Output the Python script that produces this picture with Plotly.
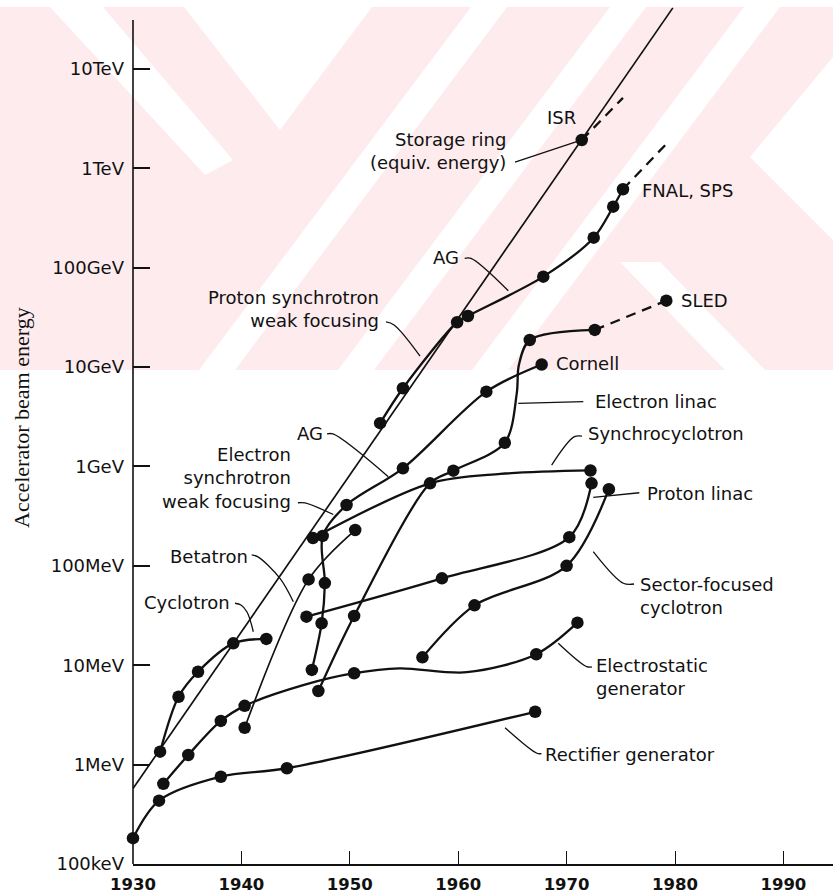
import math
import plotly.graph_objects as go

# ---------------- data: (year, beam energy in eV) ----------------
envelope_years = [1930.0, 1979.8]
envelope_energy = [5.75e5, 4.1e13]

rect_years = [1930.0, 1932.4, 1938.1, 1944.2, 1967.1]
rect_energy = [1.82e5, 4.34e5, 7.55e5, 9.19e5, 3.40e6]

es_years = [1932.8, 1935.1, 1938.1, 1940.3, 1950.4, 1967.2, 1971.0]
es_energy = [6.4e5, 1.25e6, 2.75e6, 3.9e6, 8.3e6, 1.29e7, 2.68e7]
es_path_years = [1932.8, 1935.1, 1938.1, 1940.3, 1945.7, 1950.4, 1954.6, 1960.8, 1967.2, 1971.0]
es_path_energy = [6.4e5, 1.25e6, 2.75e6, 3.9e6, 6.3e6, 8.3e6, 9.3e6, 8.5e6, 1.29e7, 2.68e7]

cyc_years = [1932.5, 1934.2, 1936.0, 1939.25, 1942.3]
cyc_energy = [1.35e6, 4.82e6, 8.6e6, 1.66e7, 1.84e7]

betatron_years = [1940.3, 1946.2, 1950.5]
betatron_energy = [2.35e6, 7.3e7, 2.29e8]

esync_years = [1946.5, 1947.4, 1947.7, 1947.5, 1949.7, 1954.9, 1962.6, 1967.7]
esync_energy = [8.96e6, 2.64e7, 6.7e7, 2.0e8, 4.09e8, 9.57e8, 5.65e9, 1.06e10]

synchro_years = [1946.6, 1957.4, 1963.9, 1972.2]
synchro_energy = [1.9e8, 6.76e8, 8.4e8, 9.1e8]
synchro_dot_years = [1946.6, 1957.4, 1972.2]
synchro_dot_energy = [1.9e8, 6.76e8, 9.1e8]

plinac_years = [1946.0, 1958.5, 1970.25, 1972.3]
plinac_energy = [3.08e7, 7.48e7, 1.94e8, 6.76e8]

elinac_years = [1947.1, 1950.4, 1957.4, 1959.55, 1964.3, 1965.4, 1965.6, 1966.6, 1972.6]
elinac_energy = [5.5e6, 3.13e7, 6.76e8, 9.06e8, 1.73e9, 5.4e9, 1.05e10, 1.87e10, 2.36e10]
elinac_dot_years = [1947.1, 1950.4, 1959.55, 1964.3, 1966.6, 1972.6]
elinac_dot_energy = [5.5e6, 3.13e7, 9.06e8, 1.73e9, 1.87e10, 2.36e10]
sled_years = [1972.6, 1979.2]
sled_energy = [2.36e10, 4.65e10]

sector_years = [1956.7, 1961.5, 1970.0, 1973.9]
sector_energy = [1.2e7, 4.0e7, 1.0e8, 5.9e8]

psync_years = [1952.8, 1954.9, 1959.9, 1960.9, 1967.85, 1972.5, 1974.3, 1975.2]
psync_energy = [2.72e9, 6.11e9, 2.82e10, 3.26e10, 8.11e10, 2.0e11, 4.1e11, 6.14e11]
fnal_future_years = [1975.2, 1979.4]
fnal_future_energy = [6.14e11, 1.85e12]

isr_years = [1971.4]
isr_energy = [1.92e12]
isr_future_years = [1971.4, 1975.2]
isr_future_energy = [1.92e12, 5.1e12]

tick_years = [1930, 1940, 1950, 1960, 1970, 1980, 1990]
tick_energy = [1e5, 1e6, 1e7, 1e8, 1e9, 1e10, 1e11, 1e12, 1e13]
tick_energy_text = ["100keV", "1MeV", "10MeV", "100MeV", "1GeV", "10GeV",
                    "100GeV", "1TeV", "10TeV"]

# label text, anchor year, anchor energy, x anchor
labels = [
    ("Storage ring<br>(equiv. energy)", 1964.6, 1.48e12, "right"),
    ("ISR", 1969.5, 3.2e12, "center"),
    ("FNAL, SPS", 1976.8, 5.94e11, "left"),
    ("AG", 1960.3, 1.25e11, "right"),
    ("Proton synchrotron<br>weak focusing", 1952.9, 3.8e10, "right"),
    ("SLED", 1980.4, 4.7e10, "left"),
    ("Cornell", 1968.8, 1.09e10, "left"),
    ("Electron linac", 1972.4, 4.48e9, "left"),
    ("Synchrocyclotron", 1971.8, 2.12e9, "left"),
    ("Proton linac", 1977.2, 5.36e8, "left"),
    ("Sector-focused<br>cyclotron", 1976.6, 4.97e7, "left"),
    ("Electrostatic<br>generator", 1972.5, 7.6e6, "left"),
    ("Rectifier generator", 1967.8, 1.25e6, "left"),
    ("AG", 1947.7, 2.15e9, "right"),
    ("Electron<br>synchrotron<br>weak focusing", 1944.8, 7.64e8, "right"),
    ("Betatron", 1940.8, 1.23e8, "right"),
    ("Cyclotron", 1939.1, 4.26e7, "right"),
]

# leader lines from labels to curves
leaders = [
    ([1965.24, 1970.93], [1.15e12, 1.85e12]),
    ([1960.6, 1961.18, 1964.62], [1.24e11, 1.24e11, 5.86e10]),
    ([1953.34, 1954.08, 1956.48], [2.84e10, 2.65e10, 1.29e10]),
    ([1965.54, 1971.54], [4.3e9, 4.48e9]),
    ([1968.62, 1970.68, 1971.42], [1.03e9, 1.98e9, 2.02e9]),
    ([1972.46, 1976.71], [4.89e8, 5.43e8]),
    ([1972.46, 1975.23, 1976.22], [1.39e8, 6.67e7, 6.56e7]),
    ([1969.23, 1971.85, 1972.34], [1.66e7, 9.66e6, 9.6e6]),
    ([1964.32, 1967.27, 1967.68], [2.35e6, 1.3e6, 1.29e6]),
    ([1947.9, 1948.45, 1953.55], [2.12e9, 2.12e9, 7.87e8]),
    ([1945.22, 1945.87, 1948.48], [4.31e8, 4.29e8, 3.28e8]),
    ([1940.95, 1941.53, 1943.56, 1944.79], [1.29e8, 1.23e8, 7.48e7, 4.35e7]),
    ([1939.41, 1939.96, 1940.52, 1941.1], [4.2e7, 4.04e7, 3.43e7, 2.17e7]),
]

# ---------------- figure ----------------
W, H = 833, 894
ML, MR, MT, MB = 133, 0, 5, 30
INK = "#111111"
PINK = "#fdebee"
FONT = "DejaVu Sans"

fig = go.Figure()


def curve(xs, ys, width=2.3, dash="solid"):
    fig.add_trace(go.Scatter(
        x=xs, y=ys, mode="lines",
        line=dict(color=INK, width=width, shape="spline", smoothing=0.9, dash=dash),
        hoverinfo="skip", showlegend=False))


def dots(xs, ys, size=12.5):
    fig.add_trace(go.Scatter(
        x=xs, y=ys, mode="markers",
        marker=dict(color=INK, size=size, line=dict(width=0)),
        hoverinfo="skip", showlegend=False, cliponaxis=False))


# envelope (straight line on the log scale)
fig.add_trace(go.Scatter(x=envelope_years, y=envelope_energy, mode="lines",
                         line=dict(color=INK, width=1.7),
                         hoverinfo="skip", showlegend=False))

curve(rect_years, rect_energy)
dots(rect_years, rect_energy)
curve(es_path_years, es_path_energy)
dots(es_years, es_energy)
curve(cyc_years, cyc_energy)
dots(cyc_years, cyc_energy)
curve(betatron_years, betatron_energy, width=1.7)
dots(betatron_years, betatron_energy)
curve(esync_years, esync_energy)
dots(esync_years, esync_energy)
curve(synchro_years, synchro_energy)
dots(synchro_dot_years, synchro_dot_energy)
curve(plinac_years, plinac_energy)
dots(plinac_years, plinac_energy)
curve(elinac_years, elinac_energy)
dots(elinac_dot_years, elinac_dot_energy)
curve(sled_years, sled_energy, dash="10px,7px")
dots(sled_years[1:], sled_energy[1:])
curve(sector_years, sector_energy)
dots(sector_years, sector_energy)
curve(psync_years, psync_energy)
dots(psync_years, psync_energy)
curve(fnal_future_years, fnal_future_energy, dash="10px,7px")
dots(isr_years, isr_energy)
curve(isr_future_years, isr_future_energy, dash="10px,7px")

for lx, lyv in leaders:
    fig.add_trace(go.Scatter(x=lx, y=lyv, mode="lines",
                             line=dict(color=INK, width=1.3, shape="spline"),
                             hoverinfo="skip", showlegend=False))

for text, x, e, anchor in labels:
    fig.add_annotation(x=x, y=math.log10(e), text=text, showarrow=False,
                       xanchor=anchor, yanchor="middle",
                       align="right" if anchor == "right" else "left",
                       font=dict(family=FONT, size=18, color=INK))

# faint diagonal banding in the upper part of the page
pw, ph = W - ML - MR, H - MT - MB


def px(x, y):
    return (x - ML) / pw, (H - MB - y) / ph


def poly(points, color):
    path = "M " + " L ".join("%.4f,%.4f" % px(x, y) for x, y in points) + " Z"
    fig.add_shape(type="path", path=path, xref="paper", yref="paper",
                  fillcolor=color, line=dict(width=0), layer="below")


poly([(0, 7), (833, 7), (833, 370), (0, 370)], PINK)
for x0 in [471, 610, 744]:
    poly([(x0, 7), (x0 + 36, 7), (x0 + 36 - 272, 370), (x0 - 272, 370)], "white")
poly([(184, 7), (372, 7), (280, 130)], "white")
poly([(50, 7), (103, 7), (233, 160), (205, 175)], "white")
poly([(750, 157), (833, 57), (833, 240)], "white")
poly([(620, 262), (660, 262), (765, 370), (725, 370)], "white")

# y axis line drawn only up to the top tick region
fig.add_shape(type="line", xref="paper", yref="paper", x0=0, x1=0,
              y0=0, y1=(H - MB - 20) / ph, line=dict(color=INK, width=1.6))

# rotated axis title
tx, ty = px(21, 418)
fig.add_annotation(x=tx, y=ty, xref="paper", yref="paper", text="Accelerator beam energy",
                   showarrow=False, textangle=-90, xanchor="center", yanchor="middle",
                   font=dict(family="Liberation Serif", size=22, color=INK))

fig.update_layout(
    width=W, height=H,
    margin=dict(l=ML, r=MR, t=MT, b=MB),
    paper_bgcolor="white", plot_bgcolor="rgba(0,0,0,0)",
    showlegend=False,
    xaxis=dict(range=[1930, 1930 + pw / 10.84], tickvals=tick_years,
               ticks="inside", ticklen=13, tickwidth=1.3, tickcolor=INK,
               showline=True, linecolor=INK, linewidth=2.4,
               showgrid=False, zeroline=False, ticklabelstandoff=4,
               tickfont=dict(family=FONT, size=16.5, color=INK, weight="bold")),
    yaxis=dict(type="log", range=[5, 5 + ph / 99.4],
               tickvals=tick_energy, ticktext=tick_energy_text,
               ticks="inside", ticklen=17, tickwidth=1.6, tickcolor=INK,
               showline=False, showgrid=False, zeroline=False,
               ticklabelstandoff=8,
               tickfont=dict(family=FONT, size=18, color=INK)),
)

fig.write_html("out.html")
